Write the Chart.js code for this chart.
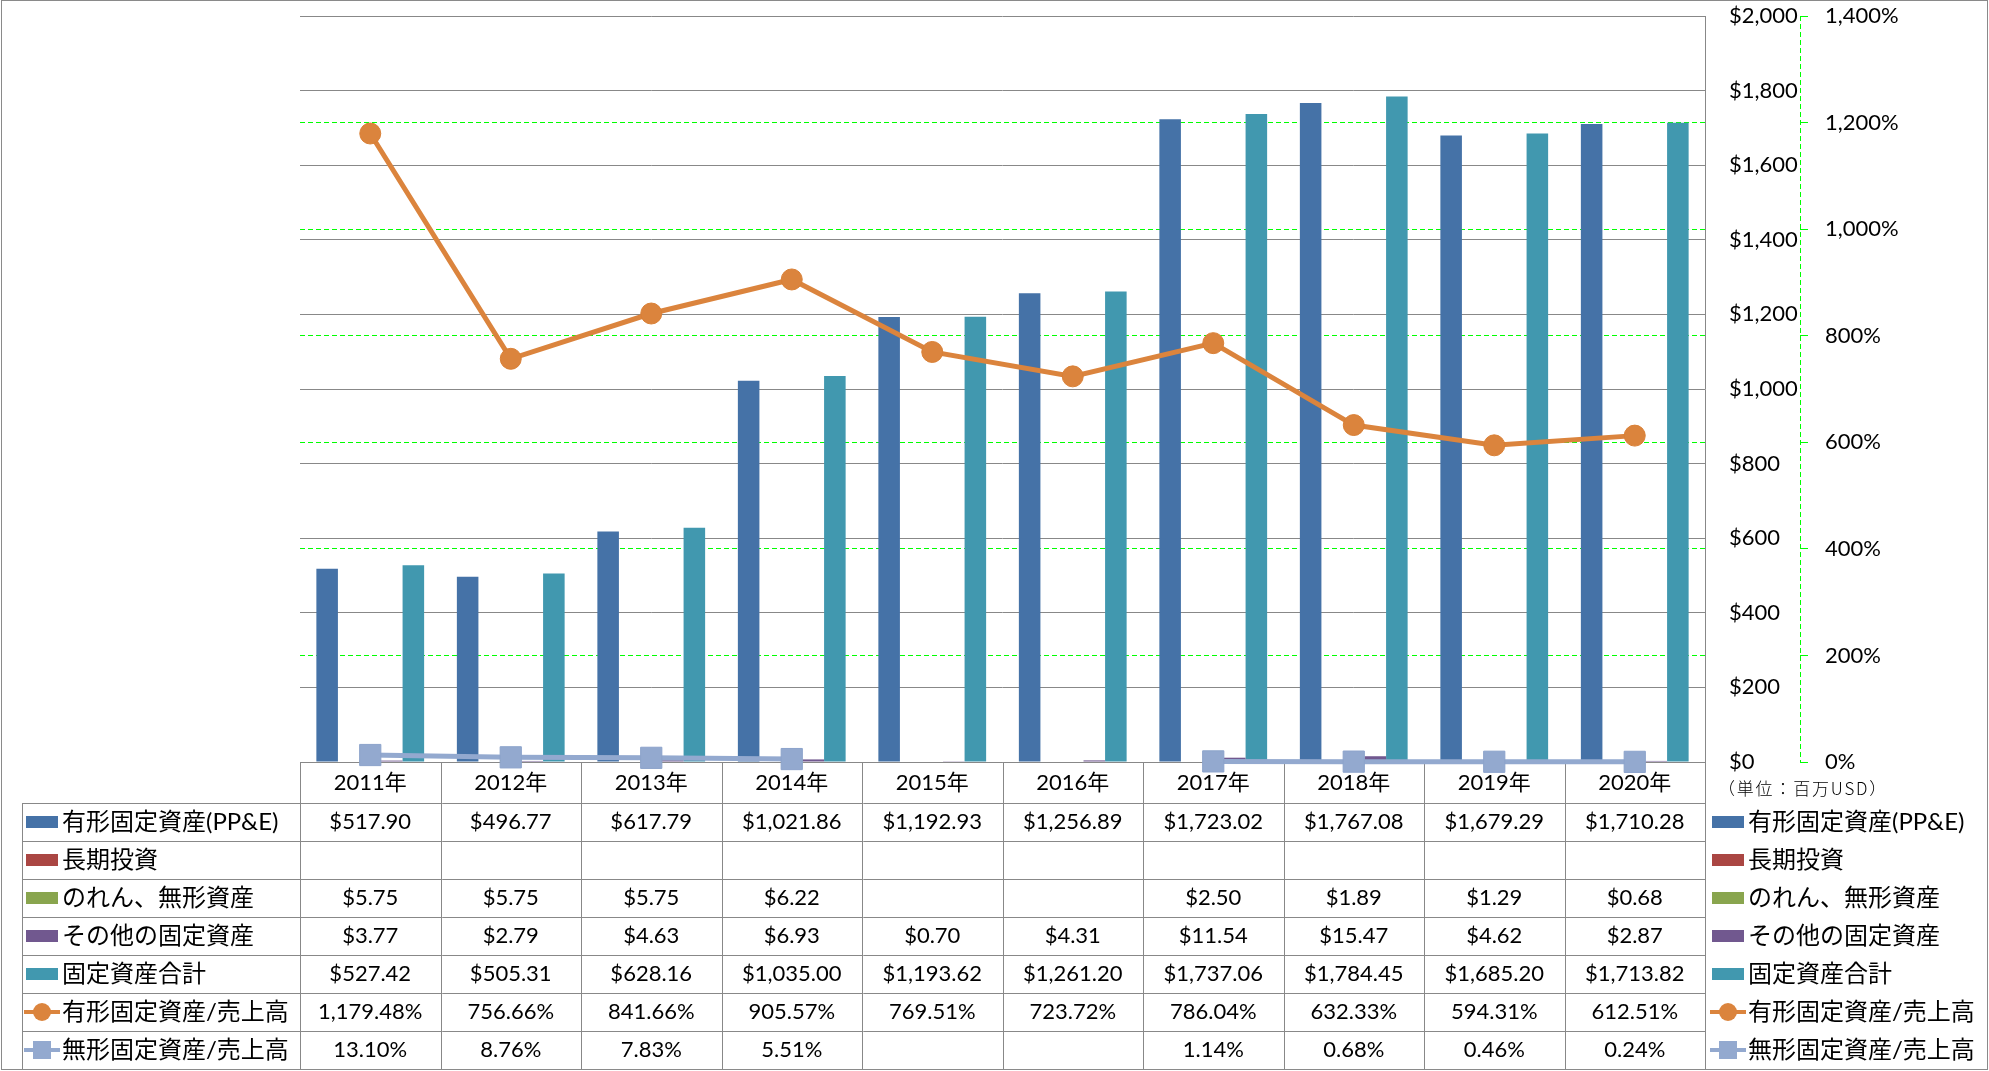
<!DOCTYPE html>
<html lang="ja">
<head>
<meta charset="utf-8">
<title>固定資産の推移</title>
<script src="https://cdn.jsdelivr.net/npm/chart.js@4.4.0/dist/chart.umd.min.js"></script>
<style>
    html, body { margin: 0; padding: 0; background: #fff; }
    #wrap { width: 1989px; height: 1071px; }
</style>
</head>
<body>
<div id="wrap"><canvas id="chart" width="1989" height="1071"></canvas></div>
<script>
// data (単位: 百万USD)
var years = ['2011年', '2012年', '2013年', '2014年', '2015年', '2016年', '2017年', '2018年', '2019年', '2020年'];
var ppe = [517.90, 496.77, 617.79, 1021.86, 1192.93, 1256.89, 1723.02, 1767.08, 1679.29, 1710.28];
var longInvest = [null, null, null, null, null, null, null, null, null, null];
var goodwill = [5.75, 5.75, 5.75, 6.22, null, null, 2.50, 1.89, 1.29, 0.68];
var otherAssets = [3.77, 2.79, 4.63, 6.93, 0.70, 4.31, 11.54, 15.47, 4.62, 2.87];
var totalFixed = [527.42, 505.31, 628.16, 1035.00, 1193.62, 1261.20, 1737.06, 1784.45, 1685.20, 1713.82];
var ppeToSales = [1179.48, 756.66, 841.66, 905.57, 769.51, 723.72, 786.04, 632.33, 594.31, 612.51];
var intangibleToSales = [13.10, 8.76, 7.83, 5.51, null, null, 1.14, 0.68, 0.46, 0.24];

var dollarTicks = [0, 200, 400, 600, 800, 1000, 1200, 1400, 1600, 1800, 2000];
var pctTicks = [0, 200, 400, 600, 800, 1000, 1200, 1400];
var unitLabel = '（単位：百万USD）';

var colors = {
    ppe: '#4572A7',
    longInvest: '#AA4643',
    goodwill: '#89A54E',
    other: '#71588F',
    total: '#4198AF',
    ppeRatio: '#DB843D',
    intRatio: '#93A9CF',
    grid: '#888888',
    green: '#00FF00'
};

function money(v) {
    return '$' + v.toLocaleString('en-US', { minimumFractionDigits: 2, maximumFractionDigits: 2 });
}

function pct(v) {
    return v.toLocaleString('en-US', { minimumFractionDigits: 2, maximumFractionDigits: 2 }) + '%';
}

// rows of the data table under the plot
var tableRows = [
    { label: '有形固定資産(PP&E)', key: 'bar', color: colors.ppe, values: ppe, fmt: money },
    { label: '長期投資', key: 'bar', color: colors.longInvest, values: longInvest, fmt: money },
    { label: 'のれん、無形資産', key: 'bar', color: colors.goodwill, values: goodwill, fmt: money },
    { label: 'その他の固定資産', key: 'bar', color: colors.other, values: otherAssets, fmt: money },
    { label: '固定資産合計', key: 'bar', color: colors.total, values: totalFixed, fmt: money },
    { label: '有形固定資産/売上高', key: 'circle', color: colors.ppeRatio, values: ppeToSales, fmt: pct },
    { label: '無形固定資産/売上高', key: 'square', color: colors.intRatio, values: intangibleToSales, fmt: pct }
];

var HEADER_H = 41;
var ROW_H = 38;
var TABLE_LEFT = 22;
var LABEL_FONT = '24px Lato, "Noto Sans CJK JP", sans-serif';
var VALUE_FONT = '22px Lato, "Noto Sans CJK JP", sans-serif';

function crisp(v) {
    return Math.round(v) + 0.5;
}

function drawKey(ctx, row, cx, cy) {
    ctx.save();
    if (row.key == 'bar') {
        ctx.fillStyle = row.color;
        ctx.fillRect(cx - 16, cy - 6, 32, 12);
    } else {
        ctx.strokeStyle = row.color;
        ctx.lineWidth = 4;
        ctx.beginPath();
        ctx.moveTo(cx - 18, cy);
        ctx.lineTo(cx + 18, cy);
        ctx.stroke();
        ctx.fillStyle = row.color;
        if (row.key == 'circle') {
            ctx.beginPath();
            ctx.arc(cx, cy, 9, 0, Math.PI * 2);
            ctx.fill();
        } else {
            ctx.fillRect(cx - 9, cy - 9, 18, 18);
        }
    }
    ctx.restore();
}

// no extra room for first/last tick labels, the layout padding handles it
function noLabelPadding(scale) {
    scale.paddingTop = 0;
    scale.paddingBottom = 0;
}

var dataTable = {
    id: 'dataTable',
    beforeDatasetsDraw: function (chart) {
        var ctx = chart.ctx;
        var area = chart.chartArea;
        var xs = chart.scales.x;
        var n = years.length;
        var colW = (area.right - area.left) / n;
        var top = area.bottom;
        var rowsTop = top + HEADER_H;
        var bottom = rowsTop + ROW_H * tableRows.length;

        ctx.save();
        ctx.strokeStyle = colors.grid;
        ctx.lineWidth = 1;
        ctx.beginPath();
        // header top (axis line)
        ctx.moveTo(area.left, crisp(top));
        ctx.lineTo(area.right, crisp(top));
        for (var r = 0; r <= tableRows.length; r++) {
            var y = crisp(rowsTop + r * ROW_H);
            ctx.moveTo(TABLE_LEFT, y);
            ctx.lineTo(area.right, y);
        }
        for (var i = 0; i <= n; i++) {
            var x = crisp(area.left + i * colW);
            ctx.moveTo(x, top);
            ctx.lineTo(x, bottom);
        }
        ctx.moveTo(crisp(TABLE_LEFT), rowsTop);
        ctx.lineTo(crisp(TABLE_LEFT), bottom);
        ctx.stroke();

        ctx.fillStyle = '#000';
        ctx.textBaseline = 'middle';

        // year headers
        ctx.font = VALUE_FONT;
        ctx.textAlign = 'center';
        years.forEach(function (yr, i) {
            ctx.fillText(yr, xs.getPixelForValue(i), top + HEADER_H / 2);
        });

        tableRows.forEach(function (row, r) {
            var cy = rowsTop + r * ROW_H + ROW_H / 2;
            // left legend cell
            drawKey(ctx, row, 42, cy);
            ctx.font = LABEL_FONT;
            ctx.textAlign = 'left';
            ctx.fillStyle = '#000';
            ctx.fillText(row.label, 62, cy);
            // right legend
            drawKey(ctx, row, 1728, cy);
            ctx.fillStyle = '#000';
            ctx.fillText(row.label, 1748, cy);
            // values
            ctx.font = VALUE_FONT;
            ctx.textAlign = 'center';
            row.values.forEach(function (v, i) {
                if (v === null) return;
                ctx.fillText(row.fmt(v), xs.getPixelForValue(i), cy);
            });
        });

        // unit note under the money axis
        ctx.font = '300 17px "Noto Sans CJK JP", sans-serif';
        ctx.textAlign = 'left';
        ctx.letterSpacing = '1.8px';
        ctx.fillText(unitLabel, 1718, top + 27);
        ctx.letterSpacing = '0px';

        // dashed secondary axis line
        var y1 = chart.scales.y1;
        ctx.strokeStyle = colors.green;
        ctx.setLineDash([5, 3]);
        ctx.beginPath();
        ctx.moveTo(crisp(y1.left), area.top);
        ctx.lineTo(crisp(y1.left), area.bottom);
        ctx.stroke();
        ctx.restore();
    },
    afterDraw: function (chart) {
        var ctx = chart.ctx;
        ctx.save();
        ctx.strokeStyle = '#8a8a8a';
        ctx.lineWidth = 1;
        ctx.strokeRect(1.5, 0.5, chart.width - 3, chart.height - 2);
        ctx.restore();
    }
};

Chart.defaults.font.family = 'Lato, "Noto Sans CJK JP", sans-serif';
Chart.defaults.color = '#000';

var ctx = document.getElementById('chart');
var myChart = new Chart(ctx, {
    type: 'bar',
    data: {
        labels: years,
        datasets: [{
            type: 'line',
            label: '有形固定資産/売上高',
            data: ppeToSales,
            yAxisID: 'y1',
            order: 0,
            borderColor: colors.ppeRatio,
            backgroundColor: colors.ppeRatio,
            borderWidth: 5,
            pointRadius: 10.5,
            pointBorderWidth: 1,
            pointBackgroundColor: colors.ppeRatio,
            pointBorderColor: '#D98036',
            clip: false
        }, {
            type: 'line',
            label: '無形固定資産/売上高',
            data: intangibleToSales,
            yAxisID: 'y1',
            order: 0,
            borderColor: colors.intRatio,
            backgroundColor: colors.intRatio,
            borderWidth: 5,
            pointStyle: 'rect',
            pointRadius: 15,
            pointBorderWidth: 1,
            pointBackgroundColor: colors.intRatio,
            pointBorderColor: '#8CA3CB',
            clip: false
        }, {
            label: '有形固定資産(PP&E)',
            data: ppe,
            backgroundColor: colors.ppe,
            order: 1
        }, {
            label: '長期投資',
            data: longInvest,
            backgroundColor: colors.longInvest,
            order: 1
        }, {
            label: 'のれん、無形資産',
            data: goodwill,
            backgroundColor: colors.goodwill,
            order: 1
        }, {
            label: 'その他の固定資産',
            data: otherAssets,
            backgroundColor: colors.other,
            order: 1
        }, {
            label: '固定資産合計',
            data: totalFixed,
            backgroundColor: colors.total,
            order: 1
        }]
    },
    plugins: [dataTable],
    options: {
        responsive: false,
        animation: false,
        devicePixelRatio: 1,
        categoryPercentage: 0.767,
        barPercentage: 1,
        layout: {
            padding: { left: 300, top: 15, bottom: 309, right: 0 }
        },
        plugins: {
            legend: { display: false },
            tooltip: { enabled: false }
        },
        scales: {
            x: {
                display: false
            },
            y: {
                position: 'right',
                min: 0,
                max: 2000,
                afterBuildTicks: function (scale) {
                    scale.ticks = dollarTicks.map(function (v) { return { value: v }; });
                },
                afterFit: function (scale) {
                    scale.width = 95;
                    noLabelPadding(scale);
                },
                grid: {
                    color: colors.grid,
                    drawTicks: false
                },
                border: { display: true, color: colors.grid },
                ticks: {
                    padding: 24,
                    font: { size: 22 },
                    callback: function (v) {
                        return '$' + v.toLocaleString('en-US');
                    }
                }
            },
            y1: {
                position: 'right',
                min: 0,
                max: 1400,
                afterBuildTicks: function (scale) {
                    scale.ticks = pctTicks.map(function (v) { return { value: v }; });
                },
                afterFit: function (scale) {
                    scale.width = 189;
                    noLabelPadding(scale);
                },
                grid: {
                    color: function (c) {
                        if (!c.tick || c.tick.value == 0 || c.tick.value == 1400) return 'rgba(0,0,0,0)';
                        return colors.green;
                    },
                    tickColor: colors.green,
                    tickLength: 8,
                    tickBorderDash: []
                },
                border: { display: false, dash: [5, 3] },
                ticks: {
                    padding: 17,
                    font: { size: 22 },
                    callback: function (v) {
                        return v.toLocaleString('en-US') + '%';
                    }
                }
            }
        }
    }
});
</script>
</body>
</html>
